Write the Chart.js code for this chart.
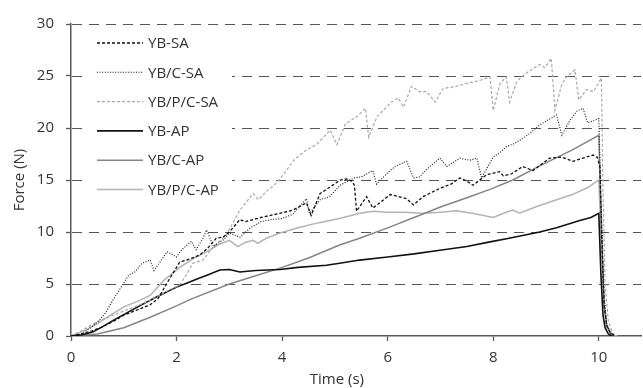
<!DOCTYPE html>
<html>
<head>
<meta charset="utf-8">
<script src="https://cdn.jsdelivr.net/npm/chart.js@4/dist/chart.umd.min.js"></script>
<style>
  html, body { margin: 0; padding: 0; background: #fff; }
  canvas { display: block; }
</style>
</head>
<body>
<canvas id="chart" width="643" height="388"></canvas>
<script>
// Force vs time, six specimens.
const xTicks = [0, 2, 4, 6, 8, 10];
const yTicks = [0, 5, 10, 15, 20, 25, 30];
const labels = ['YB-SA', 'YB/C-SA', 'YB/P/C-SA', 'YB-AP', 'YB/C-AP', 'YB/P/C-AP'];

const ybSaT = [0, 0.2, 0.4, 0.6, 0.8, 1.0, 1.2, 1.5, 1.65, 1.82, 2.06, 2.25, 2.44, 2.6, 2.75, 2.88, 3.0, 3.2, 3.3, 3.6, 3.96, 4.2, 4.46, 4.55, 4.72, 4.9, 5.1, 5.22, 5.32, 5.37, 5.41, 5.6, 5.72, 6.05, 6.36, 6.49, 6.67, 6.99, 7.2, 7.37, 7.5, 7.62, 7.87, 8.12, 8.19, 8.35, 8.56, 8.75, 9.07, 9.3, 9.51, 9.7, 9.89, 9.97, 10.02, 10.06, 10.1, 10.15, 10.22, 10.3];
const ybSaF = [0, 0.2, 0.5, 0.9, 1.4, 2.0, 2.4, 3.0, 3.6, 5.1, 7.1, 7.4, 7.8, 8.5, 9.4, 9.5, 10.0, 11.2, 11.0, 11.4, 11.8, 12.1, 12.8, 11.6, 13.7, 14.3, 15.0, 15.1, 14.9, 14.5, 12.0, 13.4, 12.3, 13.6, 13.2, 12.6, 13.4, 14.2, 14.6, 15.2, 14.9, 14.5, 15.5, 15.8, 15.4, 15.6, 16.3, 15.9, 17.1, 17.2, 16.8, 17.1, 17.4, 17.2, 16.3, 9, 3, 1, 0.3, 0];

const ybCSaT = [0, 0.2, 0.4, 0.55, 0.65, 0.8, 1.0, 1.1, 1.2, 1.35, 1.5, 1.57, 1.7, 1.82, 2.0, 2.1, 2.28, 2.37, 2.5, 2.57, 2.7, 2.9, 3.0, 3.2, 3.4, 3.6, 3.8, 4.0, 4.2, 4.46, 4.52, 4.72, 4.9, 5.1, 5.36, 5.5, 5.72, 5.79, 5.98, 6.14, 6.36, 6.49, 6.6, 6.8, 6.99, 7.12, 7.37, 7.55, 7.69, 7.78, 8.0, 8.12, 8.25, 8.4, 8.56, 8.7, 8.88, 9.05, 9.2, 9.3, 9.45, 9.58, 9.7, 9.79, 9.9, 10.0, 10.05, 10.1, 10.15, 10.22, 10.3];
const ybCSaF = [0, 0.2, 0.9, 1.6, 2.2, 3.5, 5.1, 5.9, 6.1, 7.0, 7.3, 6.3, 7.2, 8.1, 7.6, 8.3, 9.1, 8.3, 9.4, 10.2, 8.6, 9.3, 9.9, 9.5, 10.4, 11.0, 11.2, 11.3, 11.7, 13.2, 11.8, 13.1, 13.4, 14.5, 15.2, 15.3, 15.9, 14.6, 15.6, 16.3, 16.8, 15.2, 15.3, 16.3, 17.1, 16.3, 17.1, 16.9, 17.1, 15.2, 17.2, 17.6, 18.2, 18.5, 19.0, 19.5, 20.3, 20.8, 21.25, 19.3, 20.7, 21.6, 21.9, 20.5, 20.7, 20.9, 12, 4, 1.2, 0.3, 0];

const ybPCSaT = [0, 0.2, 0.4, 0.6, 0.8, 1.0, 1.2, 1.4, 1.6, 1.82, 2.06, 2.2, 2.31, 2.5, 2.7, 2.94, 3.2, 3.45, 3.55, 3.7, 3.83, 3.96, 4.24, 4.46, 4.65, 4.91, 5.04, 5.2, 5.42, 5.58, 5.64, 5.8, 6.05, 6.2, 6.3, 6.45, 6.6, 6.74, 6.9, 7.05, 7.3, 7.5, 7.7, 7.88, 7.94, 8.0, 8.13, 8.25, 8.31, 8.45, 8.63, 8.88, 8.98, 9.1, 9.17, 9.3, 9.39, 9.55, 9.62, 9.77, 9.9, 10.05, 10.08, 10.12, 10.18, 10.25, 10.32];
const ybPCSaF = [0, 0.5, 1.1, 1.6, 2.0, 2.4, 2.8, 3.2, 3.7, 4.3, 4.9, 6.0, 7.0, 7.3, 8.6, 9.7, 12.1, 13.7, 13.1, 13.9, 14.4, 15.1, 17.0, 17.9, 18.4, 19.8, 18.4, 20.4, 21.1, 21.9, 19.1, 21.1, 22.4, 22.9, 22.0, 24.0, 23.5, 23.5, 22.5, 23.8, 24.0, 24.3, 24.5, 24.8, 24.9, 21.7, 24.3, 24.9, 22.5, 24.5, 25.3, 26.1, 25.8, 26.7, 21.7, 24.2, 24.9, 25.6, 22.7, 23.7, 23.5, 24.8, 14, 5, 1.5, 0.4, 0];

const ybApT = [0, 0.2, 0.42, 0.6, 0.8, 1.05, 1.3, 1.6, 1.8, 2.0, 2.2, 2.4, 2.6, 2.82, 3.0, 3.2, 3.5, 3.96, 4.3, 4.84, 5.09, 5.47, 6.0, 6.5, 6.99, 7.5, 7.94, 8.3, 8.88, 9.2, 9.64, 9.85, 10.0, 10.04, 10.08, 10.12, 10.18, 10.25];
const ybApF = [0, 0.1, 0.4, 0.9, 1.5, 2.2, 2.9, 3.7, 4.2, 4.7, 5.1, 5.5, 5.9, 6.35, 6.4, 6.15, 6.3, 6.4, 6.6, 6.8, 7.0, 7.3, 7.6, 7.9, 8.25, 8.6, 9.05, 9.4, 10.0, 10.4, 11.1, 11.4, 11.8, 6, 2, 0.8, 0.2, 0];

const ybCApT = [0, 0.5, 1.0, 1.5, 2.0, 2.25, 3.0, 3.5, 4.0, 4.5, 5.09, 5.47, 6.0, 6.5, 7.0, 7.5, 7.94, 8.37, 8.9, 9.5, 10.0, 10.05, 10.1, 10.15, 10.22, 10.3];
const ybCApF = [0, 0.2, 0.8, 1.8, 2.9, 3.5, 5.0, 5.8, 6.6, 7.5, 8.75, 9.4, 10.4, 11.4, 12.4, 13.3, 14.1, 15.0, 16.4, 17.9, 19.3, 10, 3, 1, 0.3, 0];

const ybPCApT = [0, 0.25, 0.5, 0.75, 1.0, 1.25, 1.5, 1.75, 2.06, 2.3, 2.6, 2.8, 3.0, 3.16, 3.3, 3.45, 3.54, 3.7, 3.96, 4.3, 4.7, 5.09, 5.47, 5.72, 6.0, 6.3, 6.67, 7.0, 7.3, 7.6, 8.0, 8.2, 8.37, 8.5, 8.8, 9.2, 9.5, 9.8, 10.0, 10.05, 10.1, 10.15, 10.22, 10.3, 10.35];
const ybPCApF = [0, 0.5, 1.2, 2.0, 2.8, 3.3, 3.9, 5.3, 6.6, 7.4, 8.2, 8.8, 9.2, 8.6, 9.0, 9.2, 8.9, 9.4, 9.9, 10.4, 10.9, 11.3, 11.8, 12.0, 11.9, 11.9, 11.8, 11.9, 12.05, 11.8, 11.4, 11.8, 12.1, 11.8, 12.4, 13.1, 13.6, 14.3, 15.0, 9, 3, 1, 0.3, 0.05, 0];

const TEXT = '#333333';
const AXIS = '#595959';
const FONT = "'Open Sans', sans-serif";

function pts(ts, fs) {
  return ts.map((t, i) => ({ x: t, y: fs[i] }));
}

function series(label, ts, fs, color, width, dash) {
  return {
    label,
    data: pts(ts, fs),
    borderColor: color,
    borderWidth: width,
    borderDash: dash,
    pointRadius: 0,
    showLine: true,
    fill: false,
    tension: 0,
  };
}

const datasets = [
  series(labels[0], ybSaT, ybSaF, '#111111', 1.3, [3, 2]),
  series(labels[1], ybCSaT, ybCSaF, '#111111', 1.1, [1, 1.6]),
  series(labels[2], ybPCSaT, ybPCSaF, '#a8a8a8', 1.2, [3, 2]),
  series(labels[3], ybApT, ybApF, '#111111', 1.6, []),
  series(labels[4], ybCApT, ybCApF, '#858585', 1.5, []),
  series(labels[5], ybPCApT, ybPCApF, '#b3b3b3', 1.5, []),
];

// dashed horizontal gridlines (border.dash did not take in this build)
const dashedGrid = {
  id: 'dashedGrid',
  beforeDatasetsDraw(chart) {
    const { ctx, chartArea } = chart;
    const y = chart.scales.y;
    ctx.save();
    ctx.strokeStyle = '#555555';
    ctx.lineWidth = 1.2;
    ctx.setLineDash([10, 7]);
    yTicks.forEach(v => {
      if (v === 0) return;
      const py = Math.round(y.getPixelForValue(v)) + 0.5;
      ctx.beginPath();
      ctx.moveTo(chartArea.left + 1, py);
      ctx.lineTo(chartArea.right, py);
      ctx.stroke();
    });
    ctx.restore();
  },
};

// legend inside the plot on a white box, Excel style
const legendInside = {
  id: 'legendInside',
  afterDatasetsDraw(chart) {
    const ctx = chart.ctx;
    ctx.save();
    ctx.fillStyle = '#ffffff';
    ctx.fillRect(84, 29, 148, 174);
    chart.data.datasets.forEach((ds, i) => {
      const y = 43 + i * 29.3;
      ctx.beginPath();
      ctx.strokeStyle = ds.borderColor;
      ctx.lineWidth = ds.borderWidth;
      ctx.setLineDash(ds.borderDash);
      ctx.moveTo(97, y);
      ctx.lineTo(143, y);
      ctx.stroke();
      ctx.setLineDash([]);
      ctx.fillStyle = TEXT;
      ctx.font = '15px ' + FONT;
      ctx.textAlign = 'left';
      ctx.textBaseline = 'middle';
      ctx.fillText(ds.label, 148, y + 1);
    });
    ctx.restore();
  },
};

// x title centred under 0..10 like the original
const xTitle = {
  id: 'xTitle',
  afterDraw(chart) {
    const ctx = chart.ctx;
    const x = chart.scales.x.getPixelForValue(5);
    ctx.save();
    ctx.fillStyle = TEXT;
    ctx.font = '15px ' + FONT;
    ctx.textAlign = 'center';
    ctx.textBaseline = 'middle';
    ctx.fillText('Time (s)', x + 2, 380);
    ctx.restore();
  },
};

new Chart(document.getElementById('chart'), {
  type: 'scatter',
  data: { datasets },
  options: {
    responsive: false,
    animation: false,
    devicePixelRatio: 1,
    layout: { padding: { top: 24, right: 2, left: 0, bottom: 0 } },
    plugins: { legend: { display: false }, tooltip: { enabled: false } },
    scales: {
      x: {
        type: 'linear',
        min: 0,
        max: 10.8,
        afterBuildTicks: s => { s.ticks = xTicks.map(v => ({ value: v })); },
        afterFit: s => { s.height = 52; },
        grid: { display: true, drawOnChartArea: false, drawTicks: true, tickLength: 5, tickColor: AXIS, tickWidth: 1.3 },
        border: { display: true, color: AXIS, width: 1.5 },
        ticks: { color: TEXT, font: { family: FONT, size: 15 }, padding: 8, maxRotation: 0 },
      },
      y: {
        min: 0,
        max: 30,
        afterBuildTicks: s => { s.ticks = yTicks.map(v => ({ value: v })); },
        afterFit: s => { s.width = 71; },
        grid: { display: true, drawOnChartArea: false, drawTicks: true, tickLength: 5, tickColor: AXIS, tickWidth: 1.3 },
        border: { display: true, color: AXIS, width: 1.5 },
        ticks: { color: TEXT, font: { family: FONT, size: 15 }, padding: 12 },
        title: { display: true, text: 'Force (N)', color: TEXT, font: { family: FONT, size: 15 }, padding: { top: 11, bottom: 0 } },
      },
    },
  },
  plugins: [dashedGrid, legendInside, xTitle],
});
</script>
</body>
</html>
